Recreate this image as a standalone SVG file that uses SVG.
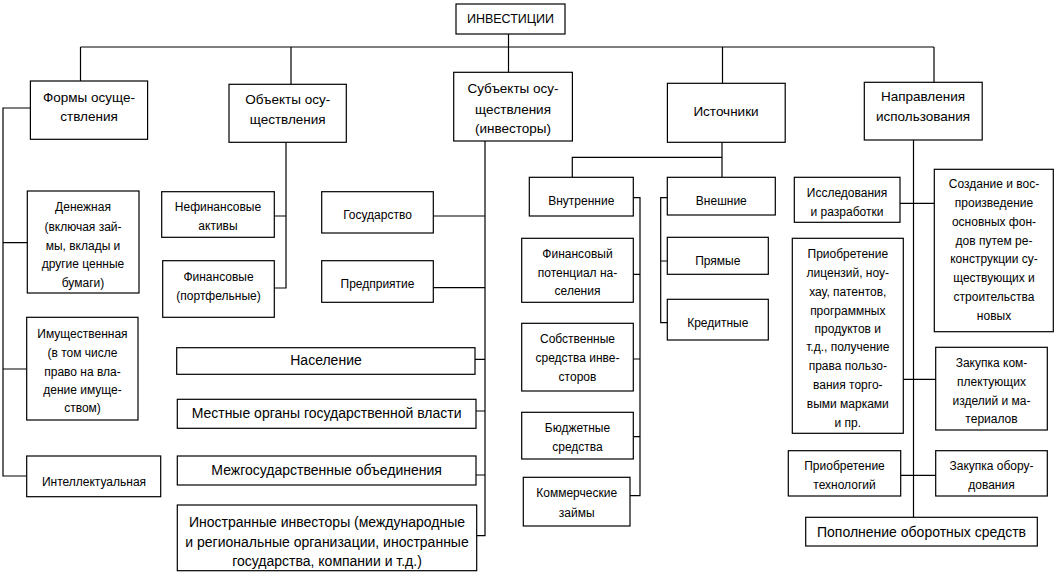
<svg xmlns="http://www.w3.org/2000/svg" width="1058" height="576" viewBox="0 0 1058 576">
<style>
rect{fill:#fff;stroke:#000;stroke-width:1.2}
#connectors path{fill:none;stroke:#000;stroke-width:1.2}
text{font-family:"Liberation Sans",Arial,sans-serif;fill:#000;text-anchor:middle}
.l{font-size:12px}
.c{font-size:13.5px}
.b{font-size:14px}
.t{font-size:12.5px}
</style>
<rect x="0" y="0" width="1058" height="576" style="fill:#fff;stroke:none"/>
<g id="connectors">
<path d="M508.5 34V72.3"/>
<path d="M80.5 47H934M80.5 47V81M291 47V84.3M722.5 47V83.3M934 47V82.3"/>
<path d="M30.4 108H3V476H26.7M3 242.7H27.3M3 369H26.7"/>
<path d="M286 142.3V288H274.3M286 216H274.3"/>
<path d="M485 141V535.7H476.7M485 216H433.3M485 287.7H433.3M485 359.3H475M485 411H476M485 475H476"/>
<path d="M722 142.3V177.3M722 157.3H572.3V177.3"/>
<path d="M633.3 197.7H640V495.7H630M640 274.3H633.3M640 359H633.3M640 436.7H633.3"/>
<path d="M667.3 197.7H660.7V322.7H667.3M660.7 261H667.3"/>
<path d="M913.5 140V517.3"/>
<path d="M900 203.3H934.3M903.3 379.3H935.7M900.7 475.3H935.7"/>
</g>
<g id="n-root"><rect x="456" y="4" width="109" height="30"/><text class="t" x="510.5" y="23">ИНВЕСТИЦИИ</text></g>
<g id="n-formy"><rect x="30.4" y="81" width="117.2" height="58.3"/><text class="c"><tspan x="89" y="102">Формы осуще-</tspan><tspan x="89" y="121">ствления</tspan></text></g>
<g id="n-obekty"><rect x="229" y="84.3" width="117.3" height="58"/><text class="c"><tspan x="287.7" y="103.8">Объекты осу-</tspan><tspan x="287.7" y="123.5">ществления</tspan></text></g>
<g id="n-subekty"><rect x="453.7" y="72.3" width="118.7" height="68.7"/><text class="c"><tspan x="513" y="92.8">Субъекты осу-</tspan><tspan x="513" y="113.8">ществления</tspan><tspan x="513" y="132.8">(инвесторы)</tspan></text></g>
<g id="n-istochniki"><rect x="667.4" y="83.3" width="117.8" height="59"/><text class="c" x="726" y="116.2">Источники</text></g>
<g id="n-napravleniya"><rect x="864.3" y="82.3" width="117.9" height="57.7"/><text class="c"><tspan x="923" y="101.2">Направления</tspan><tspan x="923" y="121.2">использования</tspan></text></g>
<g id="n-denezhnaya"><rect x="27.3" y="191" width="111.7" height="102"/><text class="l"><tspan x="83" y="210.7">Денежная</tspan><tspan x="83" y="230.7">(включая зай-</tspan><tspan x="83" y="249.7">мы, вклады и</tspan><tspan x="83" y="268.3">другие ценные</tspan><tspan x="83" y="287.3">бумаги)</tspan></text></g>
<g id="n-imushchestvennaya"><rect x="26.7" y="317.3" width="111.3" height="102.7"/><text class="l"><tspan x="82.5" y="338.3">Имущественная</tspan><tspan x="82.5" y="357.3">(в том числе</tspan><tspan x="82.5" y="375.7">право на вла-</tspan><tspan x="82.5" y="394">дение имуще-</tspan><tspan x="82.5" y="412.3">ством)</tspan></text></g>
<g id="n-intellektualnaya"><rect x="26.7" y="456" width="134" height="40.7"/><text class="l" x="94" y="485.7">Интеллектуальная</text></g>
<g id="n-nefinansovye"><rect x="161.7" y="191.7" width="112.6" height="45.6"/><text class="l"><tspan x="218" y="211.3">Нефинансовые</tspan><tspan x="218" y="230">активы</tspan></text></g>
<g id="n-finansovye"><rect x="162.7" y="260.7" width="111.6" height="56.6"/><text class="l"><tspan x="218.5" y="280.7">Финансовые</tspan><tspan x="218.5" y="299.7">(портфельные)</tspan></text></g>
<g id="n-gosudarstvo"><rect x="321.7" y="191.7" width="111.6" height="41.3"/><text class="l" x="377.5" y="219">Государство</text></g>
<g id="n-predpriyatie"><rect x="321.7" y="260.7" width="111.6" height="41.6"/><text class="l" x="377.5" y="288">Предприятие</text></g>
<g id="n-naselenie"><rect x="176.7" y="347.7" width="298.3" height="26.6"/><text class="b" x="326" y="365">Население</text></g>
<g id="n-mestnye"><rect x="177.3" y="399.3" width="298.7" height="29"/><text class="b" x="326.6" y="417.7">Местные органы государственной власти</text></g>
<g id="n-mezhgos"><rect x="177.3" y="456" width="298.7" height="29"/><text class="b" x="326.6" y="475">Межгосударственные объединения</text></g>
<g id="n-inostrannye"><rect x="177.3" y="505" width="299.4" height="65.7"/><text class="b"><tspan x="327" y="527.3">Иностранные инвесторы (международные</tspan><tspan x="327" y="546.7">и региональные организации, иностранные</tspan><tspan x="327" y="565.7">государства, компании и т.д.)</tspan></text></g>
<g id="n-vnutrennie"><rect x="529.3" y="177.3" width="104" height="38.7"/><text class="l" x="581.3" y="205">Внутренние</text></g>
<g id="n-vneshnie"><rect x="667.3" y="177.3" width="108" height="37.7"/><text class="l" x="721.3" y="205">Внешние</text></g>
<g id="n-finpotencial"><rect x="521.7" y="238.3" width="111.6" height="64"/><text class="l"><tspan x="577.5" y="258.3">Финансовый</tspan><tspan x="577.5" y="276.7">потенциал на-</tspan><tspan x="577.5" y="295">селения</tspan></text></g>
<g id="n-pryamye"><rect x="667.3" y="237.3" width="101" height="37"/><text class="l" x="717.8" y="265">Прямые</text></g>
<g id="n-kreditnye"><rect x="667.3" y="299.3" width="101" height="40.7"/><text class="l" x="717.8" y="326.7">Кредитные</text></g>
<g id="n-sobstvennye"><rect x="521.7" y="323.3" width="111.6" height="67.7"/><text class="l"><tspan x="577.5" y="343.3">Собственные</tspan><tspan x="577.5" y="361.7">средства инве-</tspan><tspan x="577.5" y="380.7">сторов</tspan></text></g>
<g id="n-byudzhetnye"><rect x="521.7" y="412.3" width="111.6" height="46.7"/><text class="l"><tspan x="577.5" y="432.3">Бюджетные</tspan><tspan x="577.5" y="451.3">средства</tspan></text></g>
<g id="n-kommercheskie"><rect x="523.3" y="477.3" width="106.7" height="48.7"/><text class="l"><tspan x="576.7" y="497.3">Коммерческие</tspan><tspan x="576.7" y="516.7">займы</tspan></text></g>
<g id="n-issledovaniya"><rect x="794.3" y="177.3" width="105.7" height="45"/><text class="l"><tspan x="847" y="197.3">Исследования</tspan><tspan x="847" y="216.3">и разработки</tspan></text></g>
<g id="n-sozdanie"><rect x="934.3" y="169.3" width="119" height="162.4"/><text class="l"><tspan x="994" y="188.3">Создание и вос-</tspan><tspan x="994" y="207.3">произведение</tspan><tspan x="994" y="226">основных фон-</tspan><tspan x="994" y="244.7">дов путем ре-</tspan><tspan x="994" y="263.3">конструкции су-</tspan><tspan x="994" y="282.3">ществующих и</tspan><tspan x="994" y="300.7">строительства</tspan><tspan x="994" y="319.7">новых</tspan></text></g>
<g id="n-licenzii"><rect x="792.3" y="238.3" width="111" height="195"/><text class="l"><tspan x="847.8" y="258.3">Приобретение</tspan><tspan x="847.8" y="276.7">лицензий, ноу-</tspan><tspan x="847.8" y="295.7">хау, патентов,</tspan><tspan x="847.8" y="314.7">программных</tspan><tspan x="847.8" y="333.3">продуктов и</tspan><tspan x="847.8" y="351.3">т.д., получение</tspan><tspan x="847.8" y="370">права пользо-</tspan><tspan x="847.8" y="389">вания торго-</tspan><tspan x="847.8" y="408">выми марками</tspan><tspan x="847.8" y="426.7">и пр.</tspan></text></g>
<g id="n-komplektuyushchie"><rect x="935.7" y="347.3" width="111.6" height="82.7"/><text class="l"><tspan x="991.5" y="366.7">Закупка ком-</tspan><tspan x="991.5" y="385.7">плектующих</tspan><tspan x="991.5" y="404.7">изделий и ма-</tspan><tspan x="991.5" y="423.3">териалов</tspan></text></g>
<g id="n-tehnologii"><rect x="788.3" y="450.7" width="112.4" height="45.3"/><text class="l"><tspan x="844.5" y="470">Приобретение</tspan><tspan x="844.5" y="489">технологий</tspan></text></g>
<g id="n-oborudovanie"><rect x="935.7" y="450.7" width="111.6" height="45.3"/><text class="l"><tspan x="991.5" y="470">Закупка обору-</tspan><tspan x="991.5" y="489">дования</tspan></text></g>
<g id="n-popolnenie"><rect x="805.7" y="517.3" width="231.6" height="28.7"/><text class="b" x="921.5" y="536.7">Пополнение оборотных средств</text></g>
</svg>
